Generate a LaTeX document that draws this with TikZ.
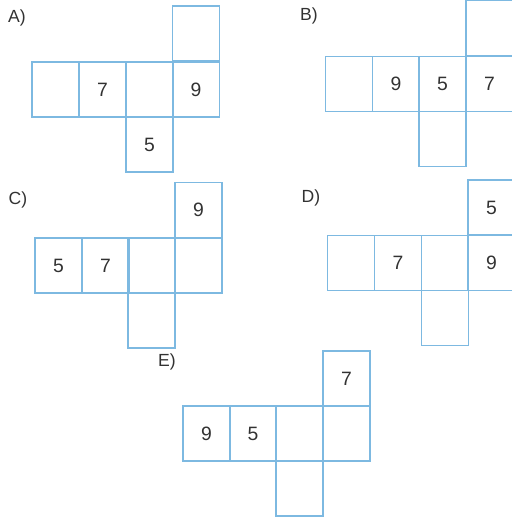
\documentclass[tikz,border=0pt]{standalone}
\usepackage{fontspec}
\setmainfont{Liberation Sans}
\definecolor{netblue}{RGB}{125,185,225}
\definecolor{digitgray}{RGB}{50,50,50}
\tikzset{
  face/.style={draw=netblue, line width=1.1pt, minimum width=1.41cm, minimum height=1.65cm,
    inner sep=0pt, text=digitgray, font=\fontsize{16.5}{16.5}\selectfont},
  choice/.style={text=digitgray, font=\fontsize{15}{15}\selectfont, inner sep=0pt}
}
\begin{document}
\begin{tikzpicture}[x=0.03cm,y=-0.03cm]
\clip (0,0) rectangle (512,524);
% A)
\node[choice] (la) at (17,18) {A)};
\node[face] (a1) at (55.5,89.5) {};
\node[face] (a2) at (102.5,89.5) {7};
\node[face] (a3) at (149.5,89.5) {};
\node[face] (a4) at (196,89.5) {9};
\node[face] (a5) at (196,33.5) {};
\node[face] (a6) at (149.5,144.5) {5};
% B)
\node[choice] (lb) at (309,16) {B)};
\node[face] (b1) at (349,84) {};
\node[face] (b2) at (396,84) {9};
\node[face] (b3) at (442.5,84) {5};
\node[face] (b4) at (489.5,84) {7};
\node[face] (b5) at (489.5,28) {};
\node[face] (b6) at (442.5,139) {};
% C)
\node[choice] (lc) at (18,200) {C)};
\node[face] (c1) at (58.5,265.5) {5};
\node[face] (c2) at (105.5,265.5) {7};
\node[face] (c3) at (151.5,265.5) {};
\node[face] (c4) at (198.5,265.5) {};
\node[face] (c5) at (198.5,210) {9};
\node[face] (c6) at (151.5,320.5) {};
% D)
\node[choice] (ld) at (311,198) {D)};
\node[face] (d1) at (351,263) {};
\node[face] (d2) at (398,263) {7};
\node[face] (d3) at (445,263) {};
\node[face] (d4) at (491.5,263) {9};
\node[face] (d5) at (491.5,207.5) {5};
\node[face] (d6) at (445,318) {};
% E)
\node[choice] (le) at (167,362) {E)};
\node[face] (e1) at (206.5,433.5) {9};
\node[face] (e2) at (253,433.5) {5};
\node[face] (e3) at (299.5,433.5) {};
\node[face] (e4) at (346.5,433.5) {};
\node[face] (e5) at (346.5,378.5) {7};
\node[face] (e6) at (299.5,488.5) {};
\end{tikzpicture}
\end{document}
